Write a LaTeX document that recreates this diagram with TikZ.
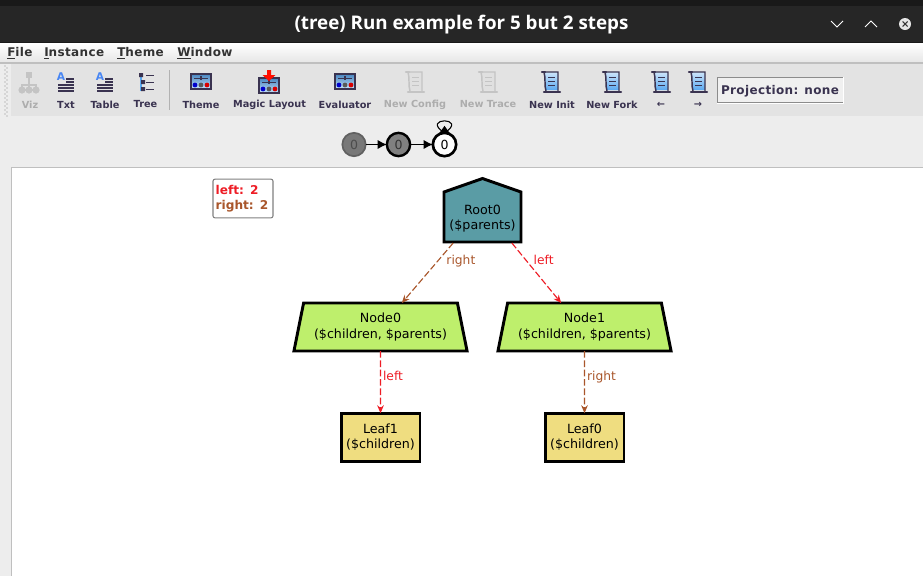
\documentclass[tikz,border=0pt]{standalone}
\usepackage{xcolor}
\usepackage{fontspec}
\setmainfont{DejaVu Sans}
\newfontfamily\titlefont{Open Sans}
\newfontfamily\menufont[LetterSpace=3]{DejaVu Sans}
\usetikzlibrary{positioning,shapes.geometric,calc,arrows.meta}

\definecolor{rootfill}{HTML}{5A9CA5}
\definecolor{nodefill}{HTML}{BEEF6C}
\definecolor{leaffill}{HTML}{EFDD80}
\definecolor{leftcol}{HTML}{EE1C25}
\definecolor{rightcol}{HTML}{A9562B}
\definecolor{scrollblue}{HTML}{5AA8F0}
\definecolor{icondark}{HTML}{3A3350}
\definecolor{icongrey}{HTML}{C4C4C4}

\tikzset{
    x=0.75pt, y=-0.75pt,
    atom/.style={draw=black, line width=2.2pt, outer sep=0pt, inner sep=0pt, align=center, text=black,
        font=\fontsize{9.5}{11.3}\selectfont, execute at begin node=\rule{0pt}{11pt}},
    rootatom/.style={atom, draw=none, rectangle, minimum width=58.5pt, minimum height=36pt},
    nodeatom/.style={atom, trapezium, trapezium stretches=true, trapezium angle=73, fill=nodefill,
        minimum width=130pt, minimum height=36pt},
    leafatom/.style={atom, rectangle, fill=leaffill, minimum width=59.2pt, minimum height=36.4pt},
    leftedge/.style={draw=leftcol, line width=0.85pt, dash pattern=on 5pt off 2pt, -{Stealth[length=6pt,width=5pt]}},
    rightedge/.style={draw=rightcol, line width=0.85pt, dash pattern=on 5pt off 2pt, -{Stealth[length=6pt,width=5pt]}},
    edgelabel/.style={inner sep=1.5pt, text height=7pt, text depth=2pt, font=\fontsize{9.2}{11}\selectfont},
    toollabel/.style={inner sep=0pt, text=icondark, font=\fontsize{7.3}{9}\selectfont\bfseries},
    toolgrey/.style={toollabel, text=black!32},
    menulabel/.style={inner sep=0pt, anchor=west, text=black!80, font=\fontsize{9}{11}\menufont\bfseries},
    state/.style={circle, minimum size=17.5pt, inner sep=0pt, outer sep=0pt, font=\fontsize{9.4}{11}\selectfont},
    stateedge/.style={draw=black, line width=0.8pt, -{Latex[length=7pt,width=7pt]}},
}

% toolbar icons, all centred on the given point
\newcommand{\scrollicon}[4]{
    \begin{scope}[shift={(#1,82)}]
        \shade[top color=#2, bottom color=#3] (-7,-10) -- (7,-10) -- (7,8) -- (-5,8) -- cycle;
        \draw[#4, line width=1.1pt] (-7,-10) -- (7,-10) -- (7,9) (-7,-10) .. controls (-5,-3) and (-7,3) .. (-5,9);
        \draw[#4, line width=1.7pt, line cap=round] (-9,-10) -- (-6,-10) (-7,10) -- (9,10);
        \foreach \ly in {-5,-1,3} {\draw[#4, line width=0.6pt] (-3,\ly) -- (4,\ly);}
    \end{scope}
}
\newcommand{\slidericon}[2]{
    \begin{scope}[shift={(#1,#2)}]
        \shade[top color=scrollblue!80!black, bottom color=scrollblue!35] (-10,-8) rectangle (10,7);
        \draw[icondark, line width=0.9pt] (-10,-8) rectangle (10,7);
        \draw[icondark, line width=0.6pt] (-7,-4) -- (7,-4);
        \fill[icondark] (-1,-6) rectangle (1,-2);
        \fill[blue!80!black] (-6,3) circle (2.4);
        \fill[black!65] (0,3) circle (2.4);
        \fill[red!85!black] (6,3) circle (2.4);
    \end{scope}
}
\newcommand{\texticon}[1]{
    \begin{scope}[shift={(#1,83)}]
        \node[inner sep=0pt, text=scrollblue!80!blue, font=\fontsize{8}{8}\selectfont\bfseries] at (-5,-6) {A};
        \foreach \ly in {-4,-1} {\draw[icondark, line width=0.8pt] (0,\ly) -- (8,\ly);}
        \foreach \ly in {2,5,8} {\draw[icondark, line width=0.8pt] (-8,\ly) -- (8,\ly);}
    \end{scope}
}

\begin{document}
\begin{tikzpicture}
    \useasboundingbox (0,0) rectangle (923,576);

    % window frame
    \fill[black!90] (0,0) rectangle (923,43);
    \fill[black!85] (0,6) rectangle (923,42);
    \fill[white] (0,43) rectangle (923,576);
    \shade[top color=white, bottom color=black!10] (0,43) rectangle (923,63);
    \fill[black!7] (0,63) rectangle (923,168);
    \fill[black!11] (11,64) rectangle (923,116);
    \fill[black!7] (0,168) rectangle (11,576);
    \draw[black!25, line width=0.8pt] (0,63) -- (923,63);
    \draw[black!25, line width=0.8pt] (11,167.5) -- (923,167.5) (11.5,167.5) -- (11.5,576);
    \foreach \gy in {66,70,...,114} {\fill[black!45] (5,\gy) circle (0.6) (7,\gy+2) circle (0.6);}

    % title bar
    \node[inner sep=0pt, text=white, font=\fontsize{14.1}{16}\titlefont\bfseries] (title) at (461.5,25)
        {(tree) Run example for 5 but 2 steps};
    \draw[white, line width=0.7pt] (831,21) -- (837,27) -- (843,21);
    \draw[white, line width=0.7pt] (865,27) -- (871,21) -- (877,27);
    \fill[white!90!black] (905,24) circle (6);
    \draw[black!80, line width=0.8pt] (902.5,21.5) -- (907.5,26.5) (907.5,21.5) -- (902.5,26.5);

    % menu
    \node[menulabel] (menufile) at (7,53) {\underline{F}ile};
    \node[menulabel] (menuinstance) at (44,53) {\underline{I}nstance};
    \node[menulabel] (menutheme) at (117,53) {\underline{T}heme};
    \node[menulabel] (menuwindow) at (177,53) {\underline{W}indow};

    % toolbar
    \draw[black!30, line width=0.7pt] (169.5,70) -- (169.5,110);
    \begin{scope}[shift={(29,84)}]
        \fill[icongrey] (-3,-12) rectangle (3,-6);
        \draw[icongrey, line width=1.2pt] (0,-6) -- (0,5) (-7,5) -- (-7,1) -- (7,1) -- (7,5);
        \fill[icongrey] (-7,6) circle (3.6) (0,6) circle (3.6) (7,6) circle (3.6);
    \end{scope}
    \texticon{66}
    \texticon{105}
    \begin{scope}[shift={(145,83)}]
        \draw[scrollblue, line width=1.6pt] (-4,-8) -- (-4,8);
        \fill[icondark] (-6,-10) rectangle (-2,-6) (-4,-3) rectangle (0,1) (-4,4) rectangle (0,8);
        \foreach \ly in {-8,-1,6} {\draw[icondark, line width=0.7pt] (1,\ly) -- (9,\ly);}
    \end{scope}
    \slidericon{201}{82}
    \slidericon{269}{86}
    \fill[red!90!orange] (267,70) rectangle (271,75) (262.5,75) -- (275.5,75) -- (269,81) -- cycle;
    \slidericon{345}{82}
    \scrollicon{415}{black!12}{black!12}{icongrey}
    \scrollicon{488}{black!12}{black!12}{icongrey}
    \scrollicon{551}{scrollblue!30}{scrollblue}{icondark}
    \scrollicon{612}{scrollblue!30}{scrollblue}{icondark}
    \scrollicon{661}{scrollblue!30}{scrollblue}{icondark}
    \scrollicon{698}{scrollblue!30}{scrollblue}{icondark}

    \node[toolgrey] (btnviz) at (30,104.5) {Viz};
    \node[toollabel] (btntxt) at (66,104.5) {Txt};
    \node[toollabel] (btntable) at (105,104.5) {Table};
    \node[toollabel] (btntree) at (145.5,104.5) {Tree};
    \node[toollabel] (btntheme) at (201,104.5) {Theme};
    \node[toollabel] (btnmagic) at (269.5,104.5) {Magic Layout};
    \node[toollabel] (btneval) at (345,104.5) {Evaluator};
    \node[toolgrey] (btnconfig) at (415,104.5) {New Config};
    \node[toolgrey] (btntrace) at (488,104.5) {New Trace};
    \node[toollabel] (btninit) at (552,104.5) {New Init};
    \node[toollabel] (btnfork) at (612,104.5) {New Fork};
    \node[toollabel] (btnprev) at (661,104.5) {←};
    \node[toollabel] (btnnext) at (698,104.5) {→};
    \node[draw=black!45, line width=0.7pt, fill=black!6, minimum width=94.5pt, minimum height=18.75pt, inner sep=0pt,
        text height=7pt, text depth=0pt, text=icondark, font=\fontsize{9}{11}\menufont\bfseries] (projection) at (780,89.5) {Projection: none};
    \draw[white, line width=0.7pt] (projection.south west) ++(0,0.9) -- ++(127,0) -- ++(0,-26);

    % trace of states
    \node[state, draw=black!62, line width=1.3pt, fill=black!53, text=black!70] (stateA) at (354,144.5) {0};
    \node[state, draw=black, line width=1.8pt, fill=black!50, text=black!80] (stateB) at (398.5,144.5) {0};
    \node[state, draw=black, line width=2pt, fill=white] (stateC) at (444.5,144.5) {0};
    \draw[stateedge] (stateA) -- (stateB);
    \draw[stateedge] (stateB) -- (stateC);
    \draw[black, line width=0.8pt] (stateC.north) .. controls +(-25,-16) and +(25,-16) .. (stateC.north);
    \fill[black] (stateC.north) ++(-5,0) -- ++(5,-7) -- ++(5,7) -- cycle;

    % legend
    \node[draw=black!50, line width=0.8pt, rounded corners=1.5pt, fill=white, minimum width=45pt, minimum height=29pt,
        inner sep=0pt, align=left, text width=41pt, font=\fontsize{9.1}{11}\selectfont\bfseries] (legend) at (243,198.5)
        {\textcolor{leftcol}{left: 2}\\ \textcolor{rightcol}{right: 2}};

    % instance graph
    \filldraw[draw=black, fill=rootfill, line width=2.2pt, line join=miter]
        (444,242) -- (444,192) -- (482.5,178.5) -- (521,192) -- (521,242) -- cycle;
    \node[rootatom] (root0) at (482.5,219) {Root0\\(\$parents)};
    \node[nodeatom] (node0) at (380.5,327) {Node0\\(\$children, \$parents)};
    \node[nodeatom] (node1) at (584.5,327) {Node1\\(\$children, \$parents)};
    \node[leafatom] (leaf1) at (380.5,437.5) {Leaf1\\(\$children)};
    \node[leafatom] (leaf0) at (584.5,437.5) {Leaf0\\(\$children)};

    \draw[rightedge] ([xshift=-22pt]root0.south) -- node[pos=.31, right=5pt, edgelabel, text=rightcol] (labA) {right} ([xshift=16pt]node0.north);
    \draw[leftedge] ([xshift=22pt]root0.south) -- node[pos=.31, right=3pt, edgelabel, text=leftcol] (labB) {left} ([xshift=-17.5pt]node1.north);
    \draw[leftedge] (node0.south) -- node[pos=.42, right=0pt, edgelabel, text=leftcol] (labC) {left} (leaf1.north);
    \draw[rightedge] (node1.south) -- node[pos=.42, right=0pt, edgelabel, text=rightcol] (labD) {right} (leaf0.north);
\end{tikzpicture}
\end{document}
